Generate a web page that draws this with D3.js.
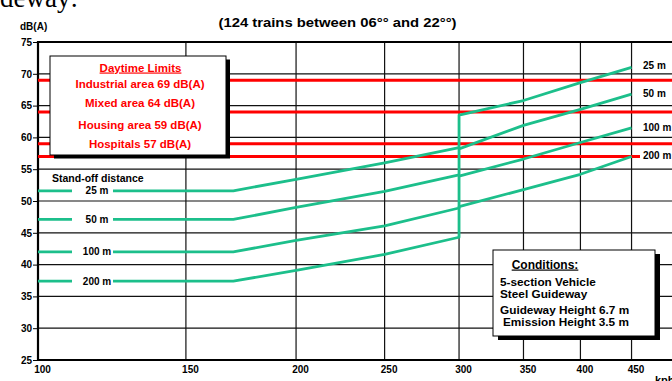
<!DOCTYPE html>
<html>
<head>
<meta charset="utf-8">
<script src="https://cdn.jsdelivr.net/npm/d3@7"></script>
<style>
  body { margin: 0; background: #fff; }
  svg { display: block; font-family: "Liberation Sans", Arial, sans-serif; font-weight: bold; }
</style>
</head>
<body>
<svg id="chart" width="672" height="381"></svg>
<script>
// speed (km/h); the repeated 300 is the step in every curve
const speeds = [100, 170, 200, 250, 300, 300, 350, 400, 450];
const level25 = [51.6, 51.6, 53.4, 56.0, 58.4, 63.5, 65.8, 68.6, 71.0];
const level50 = [47.1, 47.1, 49.0, 51.5, 54.1, 58.2, 61.9, 64.4, 66.8];
const level100 = [42.0, 42.0, 43.8, 46.1, 48.9, 53.9, 56.6, 59.2, 61.5];
const level200 = [37.4, 37.4, 39.1, 41.6, 44.3, 49.1, 51.8, 54.2, 57.0];
const distances = ['25 m', '50 m', '100 m', '200 m'];

const limitAreas = ['Industrial area', 'Mixed area', 'Housing area', 'Hospitals'];
const limitLevels = [69, 64, 59, 57];

const conditions = ['5-section Vehicle', 'Steel Guideway', 'Guideway Height 6.7 m', 'Emission Height 3.5 m'];

const xTicks = [100, 150, 200, 250, 300, 350, 400, 450];
const yTicks = [25, 30, 35, 40, 45, 50, 55, 60, 65, 70, 75];

const series = [level25, level50, level100, level200].map((levels, i) => ({
  name: distances[i],
  points: speeds.map((s, j) => [s, levels[j]]),
}));

const svg = d3.select('#chart');

const x = d3.scalePow().exponent(0.14).domain([100, 500]).range([38, 678]);
const y = d3.scaleLinear().domain([25, 75]).range([360, 42]);

const GREEN = '#1cbf8b';
const RED = '#ff0000';

// fragment of the page heading above the figure
svg.append('text')
  .attr('x', 78).attr('y', 7)
  .attr('text-anchor', 'end')
  .style('font-family', '"Liberation Serif", "Times New Roman", serif')
  .style('font-weight', 'normal')
  .style('font-size', '27px')
  .text('Guideway:');

svg.append('text')
  .attr('x', 337.5).attr('y', 27)
  .attr('text-anchor', 'middle')
  .attr('textLength', 238).attr('lengthAdjust', 'spacingAndGlyphs')
  .style('font-size', '12.5px')
  .text('(124 trains between 06°° and 22°°)');

svg.append('text')
  .attr('x', 20).attr('y', 30)
  .style('font-size', '10px')
  .text('dB(A)');

// grid
const grid = svg.append('g').attr('stroke', '#111').attr('stroke-width', 1.2);
grid.selectAll('line.v')
  .data(xTicks.slice(1))
  .join('line')
  .attr('x1', (d) => x(d)).attr('x2', (d) => x(d))
  .attr('y1', y(75)).attr('y2', y(25));
grid.selectAll('line.h')
  .data(yTicks.slice(1, -1))
  .join('line')
  .attr('class', 'h')
  .attr('x1', x(100)).attr('x2', x(500))
  .attr('y1', (d) => y(d)).attr('y2', (d) => y(d));

// axes
const yAxis = svg.append('g')
  .attr('transform', `translate(${x(100)},0)`)
  .call(d3.axisLeft(y).tickValues(yTicks).tickSize(5).tickPadding(1));
yAxis.select('.domain').remove();
yAxis.selectAll('text').style('font-size', '10px').attr('fill', '#000');

const xAxis = svg.append('g')
  .attr('transform', `translate(0,${y(25)})`)
  .call(d3.axisBottom(x).tickValues(xTicks).tickSize(0).tickPadding(6).tickFormat(d3.format('d')));
xAxis.select('.domain').remove();
xAxis.selectAll('text').style('font-size', '10px').attr('dx', 4).attr('fill', '#000');

svg.append('text')
  .attr('x', 655).attr('y', 384)
  .style('font-size', '11px')
  .text('kph');

// frame
const frame = svg.append('g').attr('stroke', '#000').attr('stroke-width', 2.2);
frame.append('line').attr('x1', x(100)).attr('x2', x(500)).attr('y1', y(75)).attr('y2', y(75));
frame.append('line').attr('x1', x(100)).attr('x2', x(500)).attr('y1', y(25)).attr('y2', y(25));
frame.append('line').attr('x1', x(100)).attr('x2', x(100)).attr('y1', y(75) - 1).attr('y2', y(25) + 1);

// daytime limits
svg.append('g')
  .selectAll('line')
  .data(limitLevels)
  .join('line')
  .attr('x1', x(100)).attr('x2', x(500))
  .attr('y1', (d) => y(d)).attr('y2', (d) => y(d))
  .attr('stroke', RED).attr('stroke-width', 3);

// noise curves
const line = d3.line().x((d) => x(d[0])).y((d) => y(d[1]));
svg.append('g')
  .selectAll('path')
  .data(series)
  .join('path')
  .attr('d', (d) => line(d.points))
  .attr('fill', 'none')
  .attr('stroke', GREEN)
  .attr('stroke-width', 2.8)
  .attr('stroke-linejoin', 'round');

// left labels (stand-off distance)
svg.append('text')
  .attr('x', 52).attr('y', 182)
  .style('font-size', '10.5px')
  .text('Stand-off distance');

const leftLab = svg.append('g')
  .selectAll('g')
  .data(series)
  .join('g')
  .attr('transform', (d) => `translate(97,${y(d.points[0][1])})`);
leftLab.append('rect')
  .attr('x', -25).attr('y', -6).attr('width', 41).attr('height', 12)
  .attr('fill', '#fff');
leftLab.append('text')
  .attr('text-anchor', 'middle').attr('dy', '0.35em')
  .style('font-size', '10px')
  .text((d) => d.name);

// right labels
const rightLab = svg.append('g')
  .selectAll('g')
  .data(series)
  .join('g')
  .attr('transform', (d, i) => `translate(643,${y(d.points[d.points.length - 1][1]) - (i === 0 ? 2 : 0.5)})`);
rightLab.append('rect')
  .attr('x', -3).attr('y', -6).attr('width', 40).attr('height', 12)
  .attr('fill', (d, i) => (i === 3 ? '#fff' : 'none'));
rightLab.append('text')
  .attr('dy', '0.35em')
  .style('font-size', '10px')
  .text((d) => d.name);

// Daytime Limits box
const box1 = svg.append('g');
box1.append('rect').attr('x', 54).attr('y', 59.5).attr('width', 176).attr('height', 99).attr('fill', '#000');
box1.append('rect').attr('x', 50).attr('y', 56).attr('width', 176).attr('height', 99)
  .attr('fill', '#fff').attr('stroke', '#000').attr('stroke-width', 1);
box1.append('text')
  .attr('x', 140.5).attr('y', 71.5)
  .attr('text-anchor', 'middle')
  .attr('fill', RED)
  .style('font-size', '11.5px')
  .style('text-decoration', 'underline')
  .text('Daytime Limits');
const limitY = [87.5, 106.5, 129, 147.5];
box1.selectAll('text.lim')
  .data(limitAreas)
  .join('text')
  .attr('class', 'lim')
  .attr('x', 140).attr('y', (d, i) => limitY[i])
  .attr('text-anchor', 'middle')
  .attr('fill', RED)
  .style('font-size', '11.5px')
  .text((d, i) => `${d} ${limitLevels[i]} dB(A)`);

// Conditions box
const box2 = svg.append('g');
box2.append('rect').attr('x', 498).attr('y', 254).attr('width', 162).attr('height', 86).attr('fill', '#000');
box2.append('rect').attr('x', 493).attr('y', 250).attr('width', 162).attr('height', 86)
  .attr('fill', '#fff').attr('stroke', '#000').attr('stroke-width', 1);
box2.append('text')
  .attr('x', 545).attr('y', 268.5)
  .attr('text-anchor', 'middle')
  .style('font-size', '12px')
  .style('text-decoration', 'underline')
  .text('Conditions:');
const condY = [285.5, 297.5, 314, 326];
const condX = [500, 500, 500, 503];
box2.selectAll('text.cond')
  .data(conditions)
  .join('text')
  .attr('class', 'cond')
  .attr('x', (d, i) => condX[i]).attr('y', (d, i) => condY[i])
  .style('font-size', '11.8px')
  .text((d) => d);
</script>
</body>
</html>
